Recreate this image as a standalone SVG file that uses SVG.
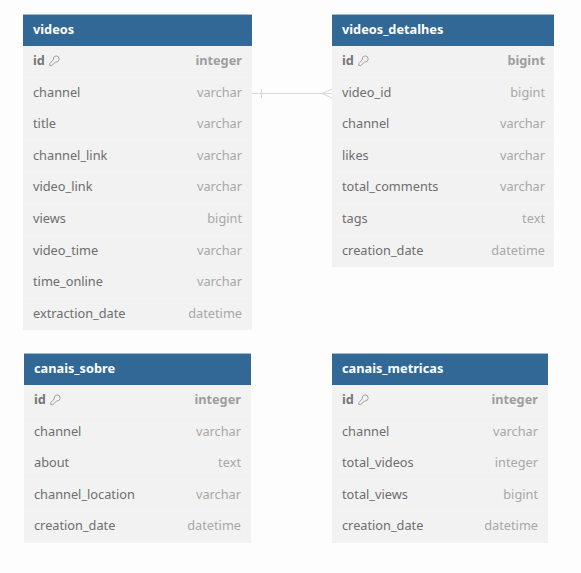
<svg xmlns="http://www.w3.org/2000/svg" width="581" height="573" viewBox="0 0 581 573">
<style>
text{font-family:"Noto Sans","Open Sans",sans-serif;font-size:12.75px}
.body{fill:#f2f2f2}
.head{fill:#316896}
.top{stroke:#9dbad2;stroke-width:1}
.sep{stroke:#f4f4f4;stroke-width:1}
.t{fill:#fff;font-weight:700}
.n{fill:#6e6e6e}
.ty{fill:#a8a8a8;text-anchor:end}
.pk{font-weight:700}
.pk.n{fill:#777}
.pk.ty{fill:#9e9e9e}
.key{fill:none;stroke:#8a8a8a;stroke-width:.8}
.conn{fill:none;stroke:#d9d9d9;stroke-width:1}
</style>
<defs>
<g id="key"><path d="M7.200 .8a3.400 3.400 0 0 1 3 3.600a3.600 3.600 0 0 1-3.800 2.800L2.600 10.600H.8V8.600L4.100 5A3.800 3.800 0 0 1 7.200 .8Z" class="key"/></g>
</defs>
<rect width="581" height="573" fill="#fdfdfd"/>
<g id="connectors">
<path class="conn" d="M252 93.500H332M261.500 89v9M332 89l-10 4.500l10 4.500"/>
</g>
<g id="videos">
<rect class="body" x="23" y="46" width="229" height="284"/>
<rect class="head" x="23" y="15" width="229" height="31"/>
<path class="top" d="M23 14.500H252"/>
<path class="sep" d="M23 77.500H252M23 109H252M23 140.500H252M23 172H252M23 203.500H252M23 235.500H252M23 267H252M23 298.500H252"/>
<text class="t" x="33" y="34">videos</text>
<text class="n pk" x="33" y="65">id</text><use href="#key" x="49" y="55"/><text class="ty pk" x="242" y="65">integer</text>
<text class="n" x="33" y="97">channel</text><text class="ty" x="242" y="97">varchar</text>
<text class="n" x="33" y="128">title</text><text class="ty" x="242" y="128">varchar</text>
<text class="n" x="33" y="160">channel_link</text><text class="ty" x="242" y="160">varchar</text>
<text class="n" x="33" y="191">video_link</text><text class="ty" x="242" y="191">varchar</text>
<text class="n" x="33" y="223">views</text><text class="ty" x="242" y="223">bigint</text>
<text class="n" x="33" y="255">video_time</text><text class="ty" x="242" y="255">varchar</text>
<text class="n" x="33" y="286">time_online</text><text class="ty" x="242" y="286">varchar</text>
<text class="n" x="33" y="318">extraction_date</text><text class="ty" x="242" y="318">datetime</text>
</g>
<g id="videos_detalhes">
<rect class="body" x="332" y="46" width="222" height="221"/>
<rect class="head" x="332" y="15" width="222" height="31"/>
<path class="top" d="M332 14.500H554"/>
<path class="sep" d="M332 77.500H554M332 109H554M332 140.500H554M332 172H554M332 203.500H554M332 235.500H554"/>
<text class="t" x="342" y="34">videos_detalhes</text>
<text class="n pk" x="342" y="65">id</text><use href="#key" x="358" y="55"/><text class="ty pk" x="545" y="65">bigint</text>
<text class="n" x="342" y="97">video_id</text><text class="ty" x="545" y="97">bigint</text>
<text class="n" x="342" y="128">channel</text><text class="ty" x="545" y="128">varchar</text>
<text class="n" x="342" y="160">likes</text><text class="ty" x="545" y="160">varchar</text>
<text class="n" x="342" y="191">total_comments</text><text class="ty" x="545" y="191">varchar</text>
<text class="n" x="342" y="223">tags</text><text class="ty" x="545" y="223">text</text>
<text class="n" x="342" y="255">creation_date</text><text class="ty" x="545" y="255">datetime</text>
</g>
<g id="canais_sobre">
<rect class="body" x="24" y="385" width="227" height="158"/>
<rect class="head" x="24" y="354" width="227" height="31"/>
<path class="top" d="M24 353.500H251"/>
<path class="sep" d="M24 416.500H251M24 448H251M24 479.500H251M24 511H251"/>
<text class="t" x="34" y="373">canais_sobre</text>
<text class="n pk" x="34" y="404">id</text><use href="#key" x="50" y="394"/><text class="ty pk" x="241" y="404">integer</text>
<text class="n" x="34" y="436">channel</text><text class="ty" x="241" y="436">varchar</text>
<text class="n" x="34" y="467">about</text><text class="ty" x="241" y="467">text</text>
<text class="n" x="34" y="499">channel_location</text><text class="ty" x="241" y="499">varchar</text>
<text class="n" x="34" y="530">creation_date</text><text class="ty" x="241" y="530">datetime</text>
</g>
<g id="canais_metricas">
<rect class="body" x="332" y="385" width="216" height="158"/>
<rect class="head" x="332" y="354" width="216" height="31"/>
<path class="top" d="M332 353.500H548"/>
<path class="sep" d="M332 416.500H548M332 448H548M332 479.500H548M332 511H548"/>
<text class="t" x="342" y="373">canais_metricas</text>
<text class="n pk" x="342" y="404">id</text><use href="#key" x="358" y="394"/><text class="ty pk" x="538" y="404">integer</text>
<text class="n" x="342" y="436">channel</text><text class="ty" x="538" y="436">varchar</text>
<text class="n" x="342" y="467">total_videos</text><text class="ty" x="538" y="467">integer</text>
<text class="n" x="342" y="499">total_views</text><text class="ty" x="538" y="499">bigint</text>
<text class="n" x="342" y="530">creation_date</text><text class="ty" x="538" y="530">datetime</text>
</g>
</svg>
